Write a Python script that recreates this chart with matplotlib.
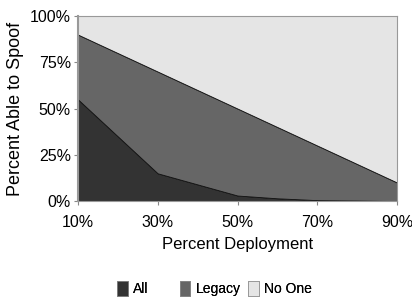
import matplotlib.pyplot as plt
from matplotlib.patches import Patch
import numpy as np

plt.rcParams['font.family'] = ['Liberation Sans', 'DejaVu Sans']

# deployment levels (percent)
deployment = [10, 20, 30, 40, 50, 60, 70, 80, 90]
tick_labels = ['10%', '30%', '50%', '70%', '90%']

# percent able to spoof
all_vals = [55, 35, 15, 9, 3, 1.5, 0.5, 0.3, 0]
legacy_total = [90, 80, 70, 60, 50, 40, 30, 20, 10]
no_one_total = [100] * 9

series_names = ['All', 'Legacy', 'No One']
series_colors = ['#333333', '#666666', '#e5e5e5']

legacy_vals = np.array(legacy_total) - np.array(all_vals)
no_one_vals = np.array(no_one_total) - np.array(legacy_total)

fig = plt.figure(figsize=(4.12, 2.97), dpi=100)
ax = fig.add_axes([0.189, 0.323, 0.775, 0.623])

ax.stackplot(deployment, all_vals, legacy_vals, no_one_vals,
             colors=series_colors, labels=series_names,
             edgecolor='#111111', linewidth=0.6)

ax.set_xlim(10, 90)
ax.set_ylim(0, 100)
ax.set_xticks(deployment[::2])
ax.set_xticklabels(tick_labels, fontsize=11.5)
ax.set_yticks([0, 25, 50, 75, 100])
ax.set_yticklabels(['0%', '25%', '50%', '75%', '100%'], fontsize=11.5)
ax.tick_params(direction='out', length=3, color='#888888', pad=2)
ax.tick_params(axis='x', pad=7)

for s in ax.spines.values():
    s.set_color('#999999')
    s.set_linewidth(0.8)
ax.spines['left'].set_linewidth(1.5)

ax.set_xlabel('Percent Deployment', fontsize=12, labelpad=5)
ax.set_ylabel('Percent Able to Spoof', fontsize=13, labelpad=4)

# legend entries placed one by one, like the original
legend_x = [0.285, 0.437, 0.603]
for name, color, lx in zip(series_names, series_colors, legend_x):
    h = Patch(facecolor=color, edgecolor='#888888', linewidth=0.5, label=name)
    leg = fig.legend(handles=[h], loc='center left', bbox_to_anchor=(lx, 0.028),
                     frameon=False, fontsize=10, handlelength=0.75,
                     handleheight=1.3, handletextpad=0.4, borderpad=0,
                     borderaxespad=0)
    fig.add_artist(leg)

fig.savefig('out.png', dpi=100)
